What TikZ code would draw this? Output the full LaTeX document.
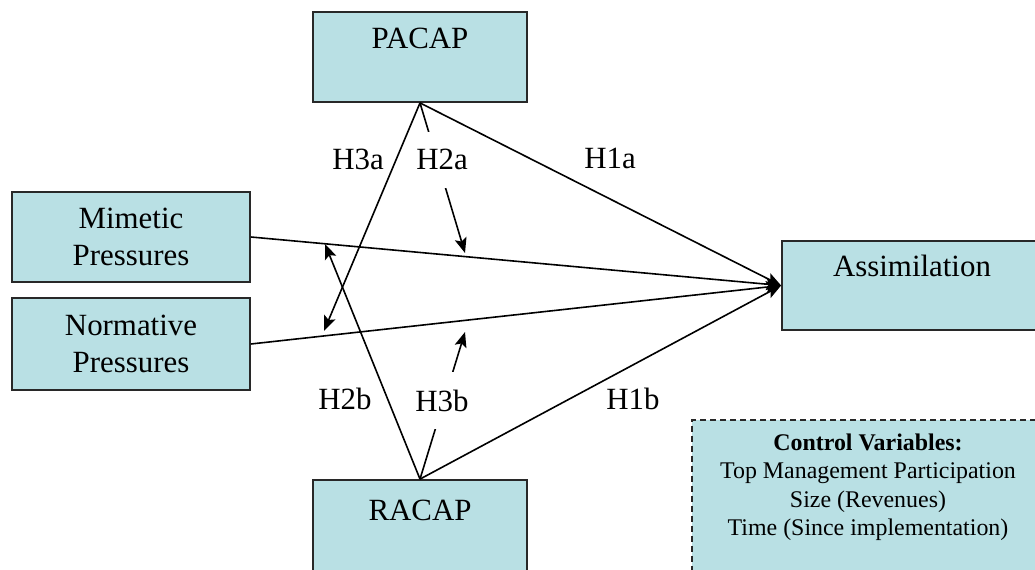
\documentclass[tikz,border=0pt]{standalone}
\usepackage{fontspec}
\setmainfont{Liberation Serif}
\usetikzlibrary{calc,arrows.meta}
\definecolor{boxfill}{RGB}{185,224,228}
\definecolor{boxline}{RGB}{40,40,40}
\begin{document}
\begin{tikzpicture}[x=1bp,y=-1bp,
  box/.style={draw=boxline,fill=boxfill,line width=1.8bp,inner sep=0,align=center,
    font=\fontsize{31}{37}\selectfont},
  dbox/.style={box,line width=1.5bp,dash pattern=on 6bp off 4bp},
  txt/.style={font=\fontsize{31}{37}\selectfont,anchor=base,inner sep=0},
  ctxt/.style={font=\fontsize{24}{28.5}\selectfont,anchor=north,inner sep=0,align=center},
  lab/.style={font=\fontsize{31}{37}\selectfont,anchor=base,inner sep=0},
  gaplab/.style={lab,fill=white,inner ysep=18bp,inner xsep=1bp},
  arr/.style={-{Stealth[length=15bp,width=12bp,inset=3bp]},line width=1.6bp,draw=black}]
\path[use as bounding box] (0,0) rectangle (1035,570);
\clip (0,0) rectangle (1035,570);
\fill[white] (0,0) rectangle (1035,570);
% boxes
\node[box,minimum width=214bp,minimum height=90bp] (pacap) at (420,57) {};
\node[box,minimum width=214bp,minimum height=100bp] (racap) at (420,530) {};
\node[box,minimum width=238bp,minimum height=90bp] (mimetic) at (131,237) {Mimetic\\Pressures};
\node[box,minimum width=238bp,minimum height=92bp] (normative) at (131,344) {Normative\\Pressures};
\node[box,minimum width=260bp,minimum height=89bp] (assim) at (912,285.5) {};
\node[dbox,minimum width=352bp,minimum height=180bp] (control) at (868,510) {};
% box texts
\node[txt] (pacapt) at (420,49) {PACAP};
\node[txt] (racapt) at (420,520) {RACAP};
\node[txt] (assimt) at (912,277) {Assimilation};
\node[ctxt] (controlt) at (868,433.5) {\textbf{Control Variables:}\\Top Management Participation\\Size (Revenues)\\Time (Since implementation)};
% arrow end points on the lines
\coordinate (t3a) at (324,331);
\coordinate (t2b) at (325,244);
\coordinate (t2a) at (465,253);
\coordinate (t3b) at (465,332);
% connectors
\draw[arr] (pacap.south) -- (assim.west);
\draw[arr] (racap.north) -- (assim.west);
\draw[arr] (mimetic.east) -- (assim.west);
\draw[arr] (normative.east) -- (assim.west);
\draw[arr] (pacap.south) -- (t3a);
\draw[arr] (racap.north) -- (t2b);
\draw[arr] (pacap.south) -- (t2a);
\draw[arr] (racap.north) -- (t3b);
% labels
\node[lab] (h3a) at (358,170) {H3a};
\node[gaplab] (h2a) at (442,170) {H2a};
\node[lab] (h1a) at (610,169) {H1a};
\node[lab] (h2b) at (345,409) {H2b};
\node[gaplab] (h3b) at (442,411) {H3b};
\node[lab] (h1b) at (633,409) {H1b};
\end{tikzpicture}
\end{document}
